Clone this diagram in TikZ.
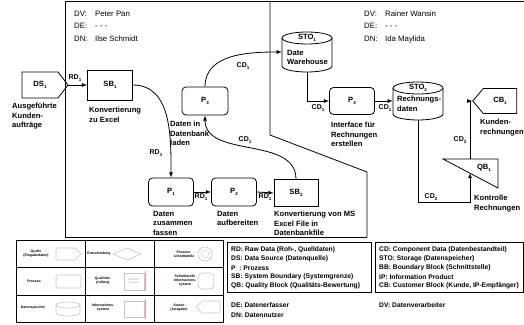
\documentclass[tikz,border=0pt]{standalone}
\usepackage{fontspec}
\setmainfont{Liberation Sans}
\usetikzlibrary{shapes.symbols}
\newcommand{\subidx}[1]{\raisebox{-0.45ex}{\fontsize{4.5}{4.5}\selectfont #1}}

\begin{document}
\begin{tikzpicture}[x=1pt, y=1pt, >=latex]
\tikzstyle{sbStyle}=[draw, line width=0.8pt, minimum width=45pt, minimum height=29pt, inner sep=0pt, font=\fontsize{7.6}{9}\selectfont\bfseries]
\tikzstyle{procStyle}=[sbStyle, rounded corners=4pt]
\tikzstyle{stoStyle}=[minimum width=50pt, minimum height=40pt, inner sep=0pt]
\tikzstyle{drumStyle}=[line width=0.8pt]
\tikzstyle{sourceStyle}=[sbStyle, signal, signal to=east, signal pointer angle=105]
\tikzstyle{custStyle}=[sbStyle, signal, signal to=west, signal pointer angle=100]
\tikzstyle{textStyle}=[align=left, anchor=north west, inner sep=0pt, font=\fontsize{7.6}{9.5}\selectfont\bfseries]
\tikzstyle{flowStyle}=[->, line width=0.8pt]
\tikzstyle{flowLabel}=[inner sep=0pt, font=\fontsize{7}{7}\selectfont\bfseries]
\tikzstyle{personStyle}=[anchor=west, inner sep=0pt, font=\fontsize{7.8}{9}\selectfont]
\tikzstyle{defStyle}=[anchor=west, inner sep=0pt, font=\fontsize{6.7}{7}\selectfont\bfseries]
\tikzstyle{legendText}=[align=center, inner sep=0pt, font=\fontsize{3.5}{4}\selectfont\bfseries]
\tikzstyle{legendShape}=[draw=black!22, line width=0.6pt]
\useasboundingbox (0,0) rectangle (524,-324);

% system boundaries
\draw[line width=0.8pt] (65,-237) -- (65,-1) -- (524,-1);
\draw[line width=0.8pt] (65,-237) -- (367,-237);
\draw[line width=0.8pt] (270,-1) -- (270,-135) -- (367,-172) -- (367,-237);

\node[personStyle] (dv1) at (74,-14) {\makebox[21pt][l]{DV:}Peter Pan};
\node[personStyle] (de1) at (74,-26) {\makebox[21pt][l]{DE:}- - -};
\node[personStyle] (dn1) at (74,-39) {\makebox[21pt][l]{DN:}Ilse Schmidt};
\node[personStyle] (dv2) at (364,-14) {\makebox[21pt][l]{DV:}Rainer Wansin};
\node[personStyle] (de2) at (364,-26) {\makebox[21pt][l]{DE:}- - -};
\node[personStyle] (dn2) at (364,-39) {\makebox[21pt][l]{DN:}Ida Maylida};

% blocks
\node[sourceStyle, minimum width=46pt, minimum height=26pt] (ds1) at (40,-85) {DS\subidx{1}};
\node[sbStyle, minimum height=30pt] (sb1) at (110,-85) {SB\subidx{1}};
\node[procStyle, minimum width=46pt, minimum height=28pt] (p3) at (205,-101) {P\subidx{3}};
\node[procStyle, minimum height=28pt] (p1) at (171,-192) {P\subidx{1}};
\node[procStyle, minimum height=28pt] (p2) at (234,-192) {P\subidx{2}};
\node[sbStyle, minimum width=44pt, minimum height=27pt] (sb2) at (296,-193) {SB\subidx{2}};
\node[procStyle, minimum height=27pt] (p4) at (352,-101) {P\subidx{4}};
\node[custStyle, minimum width=44pt, minimum height=25pt] (cb1) at (500,-101) {CB\subidx{1}};

\node[stoStyle] (sto1) at (307,-52) {};
\draw[drumStyle] (282,-38) -- (282,-66) arc[start angle=180, end angle=360, x radius=25, y radius=6] -- (332,-38);
\draw[drumStyle] (307,-38) ellipse [x radius=25, y radius=6];
\node[stoStyle, minimum height=38pt] (sto2) at (418,-101) {};
\draw[drumStyle] (393,-88) -- (393,-114) arc[start angle=180, end angle=360, x radius=25, y radius=6] -- (443,-88);
\draw[drumStyle] (418,-88) ellipse [x radius=25, y radius=6];
\node[sbStyle, draw=none, minimum width=0pt, minimum height=0pt] (sto1top) at (307,-38) {STO\subidx{1}};
\node[sbStyle, draw=none, minimum width=0pt, minimum height=0pt] (sto2top) at (418,-88) {STO\subidx{2}};

\draw[line width=0.8pt] (443,-159) -- (498,-159) -- (498,-188) -- cycle;
\node[sbStyle, draw=none, minimum width=0pt, minimum height=0pt] (qb1) at (484,-168) {QB\subidx{1}};
\coordinate (qbin) at (470,-173);
\coordinate (qbout) at (470,-159);

% texts
\node[textStyle] (tds1) at (12,-103) {Ausgeführte\\Kunden-\\aufträge};
\node[textStyle] (tsb1) at (89,-107) {Konvertierung\\zu Excel};
\node[textStyle] (tp3) at (170,-121) {Daten in\\Datenbank\\laden};
\node[textStyle] (tp1) at (153,-211) {Daten\\zusammen\\fassen};
\node[textStyle] (tp2) at (217,-211) {Daten\\aufbereiten};
\node[textStyle] (tsb2) at (274,-211) {Konvertierung von MS\\Excel File in\\Datenbankfile};
\node[textStyle] (tsto1) at (287,-50) {Date\\Warehouse};
\node[textStyle] (tp4) at (331,-122) {Interface für\\Rechnungen\\erstellen};
\node[textStyle] (tsto2) at (397,-96) {Rechnungs-\\daten};
\node[textStyle] (tcb1) at (480,-119) {Kunden-\\rechnungen};
\node[textStyle] (tqb1) at (474,-195) {Kontrolle\\Rechnungen};

% flows
\draw[flowStyle] (ds1.east) -- (sb1.west);
\draw[flowStyle] (sb1.east) to[out=0, in=90] (p1.north);
\draw[flowStyle] (p1.east) -- (p2.west);
\draw[flowStyle] (p2.east) -- (sb2.west);
\draw[flowStyle] (sb2.north) to[out=90, in=-90] (p3.south);
\draw[flowStyle] (p3.north) to[out=90, in=180] (sto1.west);
\draw[flowStyle] (sto1.south) |- (p4.west);
\draw[flowStyle] (p4.east) -- (sto2.west);
\draw[flowStyle] (sto2.south) -- ++(0,-82) -| (qbin);
\draw[flowStyle] (qbout) |- (cb1.west);

\node[flowLabel] (rd1) at (75,-78) {RD\subidx{1}};
\node[flowLabel] (rd2) at (156,-153) {RD\subidx{1}};
\node[flowLabel] (rd3) at (201,-197) {RD\subidx{1}};
\node[flowLabel] (rd4) at (265,-197) {RD\subidx{1}};
\node[flowLabel] (cd1) at (245,-140) {CD\subidx{1}};
\node[flowLabel] (cd2) at (243,-66) {CD\subidx{1}};
\node[flowLabel] (cd3) at (318,-108) {CD\subidx{1}};
\node[flowLabel] (cd4) at (385,-108) {CD\subidx{1}};
\node[flowLabel] (cd5) at (431,-197) {CD\subidx{2}};
\node[flowLabel] (cd6) at (460,-140) {CD\subidx{2}};

% legend
\draw[line width=0.8pt] (16,-240) rectangle (223,-322);
\draw[line width=0.8pt] (85,-240) -- (85,-322) (154,-240) -- (154,-322);
\draw[line width=0.8pt] (16,-267) -- (223,-267) (16,-295) -- (223,-295);
\draw[legendShape] (56,-248) -- (75,-248) -- (81,-254) -- (75,-260) -- (56,-260) -- cycle;
\draw[legendShape] (113,-254) -- (127,-248) -- (141,-254) -- (127,-260) -- cycle;
\draw[legendShape] (205,-254) circle (7);
\draw[legendShape, line width=0.4pt] (205,-254) circle (4);
\draw[legendShape, rounded corners=2pt] (56,-275) rectangle (81,-288);
\draw[legendShape] (124,-273) rectangle (144,-290);
\draw[red!40, line width=0.6pt] (145.5,-271) -- (145.5,-291);
\draw[legendShape, rounded corners=4pt] (198,-273) rectangle (214,-289);
\draw[legendShape] (56,-305) -- (56,-313) arc[start angle=180, end angle=360, x radius=12, y radius=3] -- (80,-305);
\draw[legendShape] (68,-305) ellipse [x radius=12, y radius=3];
\draw[legendShape] (124,-301) rectangle (144,-317);
\draw[red!40, line width=0.6pt] (145.5,-299) -- (145.5,-319);
\draw[legendShape] (196,-307) -- (202,-301) -- (220,-301) -- (220,-313) -- (202,-313) -- cycle;
\node[legendText] (lg1) at (36,-254) {Quelle\\(Eingabedaten)};
\node[legendText] (lg2) at (99,-254) {Entscheidung};
\node[legendText] (lg3) at (184,-254) {Prozess-\\schnittstelle};
\node[legendText] (lg4) at (34,-281) {Prozess};
\node[legendText] (lg5) at (103,-281) {Qualitäts-\\prüfung};
\node[legendText, text=black!40, font=\fontsize{2.5}{3}\selectfont] (lg5b) at (134,-281.5) {Qualitäts-\\kriterium};
\node[legendText] (lg6) at (185,-281) {Schnittstelle\\Informations-\\system};
\node[legendText] (lg7) at (33,-308) {Datenspeicher};
\node[legendText] (lg8) at (103,-308) {Informations-\\system};
\node[legendText] (lg9) at (179,-308) {Kunde\\(Ausgabe)};

\draw[line width=1pt] (227,-242) rectangle (371,-292);
\draw[line width=1pt] (375,-242) rectangle (523,-292);
\node[defStyle] (rd) at (231,-250) {RD: Raw Data (Roh-, Quelldaten)};
\node[defStyle] (ds) at (231,-259) {DS: Data Source (Datenquelle)};
\node[defStyle] (pz) at (231,-268) {P\ \ : Prozess};
\node[defStyle] (sb) at (231,-277) {SB: System Boundary (Systemgrenze)};
\node[defStyle] (qb) at (231,-286) {QB: Quality Block (Qualitäts-Bewertung)};
\node[defStyle] (cd) at (379,-250) {CD: Component Data (Datenbestandteil)};
\node[defStyle] (sto) at (379,-259) {STO: Storage (Datenspeicher)};
\node[defStyle] (bb) at (379,-268) {BB: Boundary Block (Schnittstelle)};
\node[defStyle] (ip) at (379,-277) {IP: Information Product};
\node[defStyle] (cb) at (379,-286) {CB: Customer Block (Kunde, IP-Empfänger)};
\node[defStyle] (de) at (231,-305) {DE: Datenerfasser};
\node[defStyle] (dn) at (231,-315) {DN: Datennutzer};
\node[defStyle] (dv) at (379,-305) {DV: Datenverarbeiter};
\end{tikzpicture}
\end{document}
